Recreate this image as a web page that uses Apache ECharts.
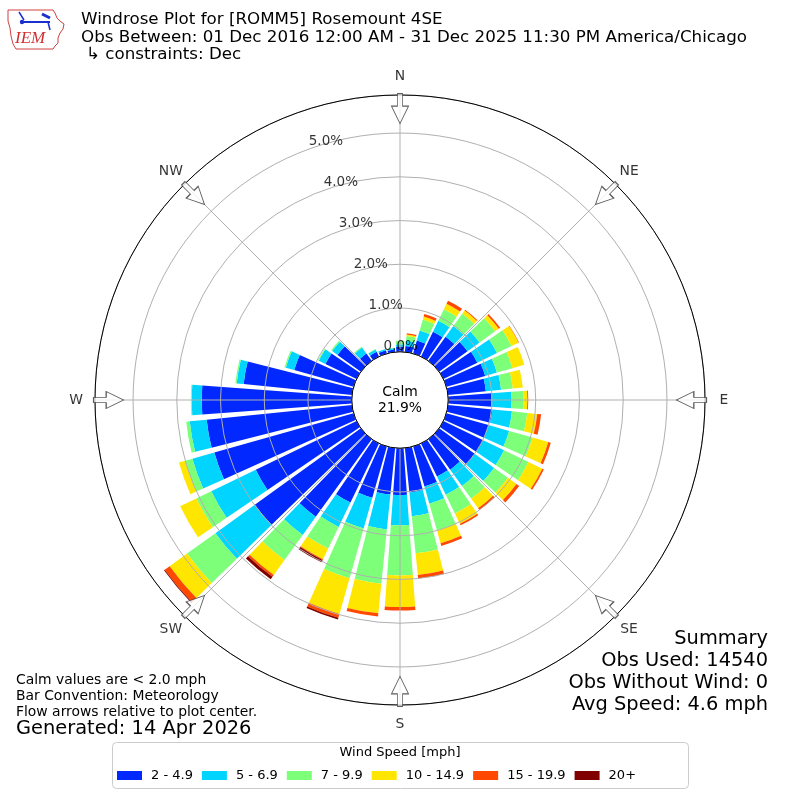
<!DOCTYPE html>
<html><head><meta charset="utf-8">
<script src="https://cdn.jsdelivr.net/npm/echarts@6/dist/echarts.min.js"></script>
<style>html,body{margin:0;padding:0;background:#fff}#c{width:800px;height:800px}</style>
</head><body><div id="c"></div>
<script>
// ---- data ----
const directions = [0,10,20,30,40,50,60,70,80,90,100,110,120,130,140,150,160,170,180,190,200,210,220,230,240,250,260,270,280,290,300,310,320,330,340,350];
const speedBins = ['2 - 4.9','5 - 6.9','7 - 9.9','10 - 14.9','15 - 19.9','20+'];
const binColors = ['#0028ff','#00d4ff','#7dff7a','#ffe600','#ff4800','#800000'];
const bin2to5   = [0.12,0.14,0.31,0.63,0.68,0.80,0.86,0.92,0.87,0.99,1.02,1.00,1.01,1.01,0.86,0.84,0.95,1.02,1.07,1.07,1.22,1.50,2.19,2.99,2.56,3.31,3.34,3.43,2.49,1.41,0.79,0.66,0.21,0.12,0.08,0.06];
const bin5to7   = [0.05,0.12,0.24,0.28,0.30,0.34,0.50,0.28,0.35,0.46,0.45,0.49,0.53,0.54,0.46,0.46,0.41,0.55,0.69,0.80,0.73,0.62,0.51,1.11,1.13,0.52,0.39,0.23,0.16,0.20,0.17,0.15,0.17,0.06,0.03,0.03];
const bin7to10  = [0.08,0.11,0.26,0.29,0.35,0.44,0.37,0.37,0.27,0.27,0.35,0.56,0.62,0.39,0.36,0.48,0.64,0.85,1.15,1.25,1.18,0.55,0.71,0.80,0.38,0.17,0.08,0.02,0.03,0.03,0.02,0.03,0.02,0.01,0.00,0.01];
const bin10to15 = [0.00,0.03,0.07,0.14,0.09,0.10,0.18,0.28,0.23,0.09,0.23,0.37,0.35,0.24,0.27,0.26,0.30,0.50,0.72,0.68,0.85,0.27,0.42,0.49,0.41,0.15,0,0,0,0,0,0,0,0,0,0];
const bin15to20 = [0,0.03,0.06,0.08,0.02,0.04,0.01,0,0,0.02,0.09,0.06,0.04,0.075,0.05,0.04,0.065,0.08,0.08,0.07,0.09,0.02,0.05,0.14,0,0,0,0,0,0,0,0,0,0,0,0];
const bin20plus = [0,0,0,0,0,0,0,0,0,0,0,0,0,0,0,0,0,0,0,0,0.04,0.06,0.07,0.02,0,0,0,0,0,0,0,0,0,0,0,0];
const compassLabels = ['N','NE','E','SE','S','SW','W','NW'];
const compassAngles = [0,45,90,135,180,225,270,315];
const radialTicks = [0,1,2,3,4,5];
const radialLabelAngle = 340;
const calmPct = 21.9;
const rMax = 5.87;
const arrowR = 5.56;

const binData = [bin2to5, bin5to7, bin7to10, bin10to15, bin15to20, bin20plus];
const FONT = 'DejaVu Sans';

const chart = echarts.init(document.getElementById('c'), null, {renderer:'canvas'});

const barSeries = speedBins.map((name, i) => ({
  name, type:'bar', coordinateSystem:'polar', polarIndex:0, stack:'ws',
  barCategoryGap:'16%', data: binData[i],
  itemStyle:{color: binColors[i]}, silent:true
}));

const hiddenAxis = {axisLine:{show:false}, axisTick:{show:false}, axisLabel:{show:false}, splitLine:{show:false}};

const option = {
  animation:false,
  backgroundColor:'#fff',
  color: binColors,
  polar:[
    {center:['50%','50%'], radius:[48.25,305]},
    {center:['50%','50%'], radius:[48.25,305]},
    {center:['50%','50%'], radius:[0,324]}
  ],
  angleAxis:[
    Object.assign({polarIndex:0, type:'category', data: directions.map(String), startAngle:95, clockwise:true}, hiddenAxis),
    {polarIndex:1, type:'value', min:0, max:360, interval:45, startAngle:90, clockwise:true, z:6,
     axisLine:{show:true, lineStyle:{color:'#000', width:1}},
     axisTick:{show:false},
     axisLabel:{show:false},
     splitLine:{show:true, lineStyle:{color:'#b0b0b0', width:1}}},
    Object.assign({polarIndex:2, type:'value', min:0, max:360, startAngle:90, clockwise:true}, hiddenAxis)
  ],
  radiusAxis:[
    Object.assign({polarIndex:0, type:'value', min:0, max:rMax}, hiddenAxis),
    {polarIndex:1, type:'value', min:0, max:rMax, interval:1, z:5,
     axisLine:{show:false}, axisTick:{show:false}, axisLabel:{show:false},
     splitLine:{show:true, lineStyle:{color:'#b0b0b0', width:1}}},
    Object.assign({polarIndex:2, type:'value', min:0, max:1}, hiddenAxis)
  ],
  legend:{
    data: speedBins, left:117, top:769, padding:0, itemWidth:25, itemHeight:9, itemGap:9, icon:'rect',
    textStyle:{fontSize:13, fontFamily:FONT, color:'#000', padding:[0,0,0,4]}, selectedMode:false
  },
  series:[
    ...barSeries,
    {type:'scatter', coordinateSystem:'polar', polarIndex:1, silent:true, z:7,
     symbolSize:0.1, itemStyle:{color:'rgba(0,0,0,0)'},
     data: radialTicks.map(v => [v, radialLabelAngle]),
     label:{show:true, position:'right', distance:0, offset:[0,-8], color:'#000', fontSize:13.5, fontFamily:FONT,
       formatter:(p)=> p.value[0].toFixed(1) + '%'}},
    {type:'scatter', coordinateSystem:'polar', polarIndex:2, silent:true, z:7,
     symbolSize:0.1, itemStyle:{color:'rgba(0,0,0,0)'},
     data: compassAngles.map((a, i) => ({value:[1, a], name: compassLabels[i]})),
     label:{show:true, position:'inside', color:'#000', fontSize:13.9, fontFamily:FONT,
       formatter:(p)=> p.name}},
    {type:'scatter', coordinateSystem:'polar', polarIndex:1, silent:true, z:8,
     symbol:'path://M35,0L65,0L65,42L100,42L50,100L0,42L35,42Z', symbolSize:[17,30],
     symbolKeepAspect:false,
     itemStyle:{color:'#fff', borderColor:'#333', borderWidth:1},
     data: compassAngles.map(a => ({value:[arrowR, a], symbolRotate:-a}))}
  ],
  graphic:[
    // title
    {type:'text', left:81, top:11, style:{text:'Windrose Plot for [ROMM5] Rosemount 4SE', font:'16.7px "DejaVu Sans"', fill:'#000'}},
    {type:'text', left:81, top:29, style:{text:'Obs Between: 01 Dec 2016 12:00 AM - 31 Dec 2025 11:30 PM America/Chicago', font:'16.7px "DejaVu Sans"', fill:'#000'}},
    {type:'text', left:86, top:46, style:{text:'\u21b3 constraints: Dec', font:'16.7px "DejaVu Sans"', fill:'#000'}},
    // logo
    {type:'polyline', silent:true, shape:{points:[[8,10],[53,10],[55,13],[57,18],[60,21],[64,24],[63,29],[60,33],[58,38],[58,43],[55,46],[53,49],[16,49],[13,44],[11,36],[10,28],[8,21],[8,10]]}, style:{stroke:'#d04040', lineWidth:1, fill:null}},
    {type:'line', silent:true, shape:{x1:22,y1:22,x2:50,y2:22}, style:{stroke:'#1a2fd0', lineWidth:2}},
    {type:'line', silent:true, shape:{x1:19,y1:12,x2:24,y2:20}, style:{stroke:'#1a2fd0', lineWidth:1.5}},
    {type:'line', silent:true, shape:{x1:42,y1:14,x2:50,y2:18}, style:{stroke:'#1a2fd0', lineWidth:3}},
    {type:'line', silent:true, shape:{x1:48,y1:22,x2:50,y2:30}, style:{stroke:'#1a2fd0', lineWidth:1.5}},
    {type:'circle', silent:true, shape:{cx:22,cy:22,r:2.2}, style:{fill:'#1a2fd0'}},
    {type:'text', left:15, top:30, style:{text:'IEM', font:'italic 17px "Liberation Serif"', fill:'#d03030'}},
    // calm text
    {type:'text', x:400, y:400, style:{text:'Calm\n' + calmPct.toFixed(1) + '%', font:'13.9px "DejaVu Sans"', fill:'#000', align:'center', verticalAlign:'middle', lineHeight:16}},
    // bottom-left notes
    {type:'text', left:16, top:673, style:{text:'Calm values are < 2.0 mph', font:'13.9px "DejaVu Sans"', fill:'#000'}},
    {type:'text', left:16, top:689, style:{text:'Bar Convention: Meteorology', font:'13.9px "DejaVu Sans"', fill:'#000'}},
    {type:'text', left:16, top:705, style:{text:'Flow arrows relative to plot center.', font:'13.9px "DejaVu Sans"', fill:'#000'}},
    {type:'text', left:16, top:719, style:{text:'Generated: 14 Apr 2026', font:'19.4px "DejaVu Sans"', fill:'#000'}},
    // summary
    {type:'text', right:32, top:629, style:{text:'Summary', font:'19.4px "DejaVu Sans"', fill:'#000', align:'right'}},
    {type:'text', right:32, top:651, style:{text:'Obs Used: 14540', font:'19.4px "DejaVu Sans"', fill:'#000', align:'right'}},
    {type:'text', right:32, top:673, style:{text:'Obs Without Wind: 0', font:'19.4px "DejaVu Sans"', fill:'#000', align:'right'}},
    {type:'text', right:32, top:695, style:{text:'Avg Speed: 4.6 mph', font:'19.4px "DejaVu Sans"', fill:'#000', align:'right'}},
    // legend box
    {type:'rect', silent:true, z:-1, shape:{x:112.5,y:742.5,width:576,height:46,r:4}, style:{fill:'#fff', stroke:'#cccccc', lineWidth:1}},
    {type:'text', x:400, y:753, style:{text:'Wind Speed [mph]', font:'13px "DejaVu Sans"', fill:'#000', align:'center', verticalAlign:'middle'}}
  ]
};
chart.setOption(option);
</script>
</body></html>
